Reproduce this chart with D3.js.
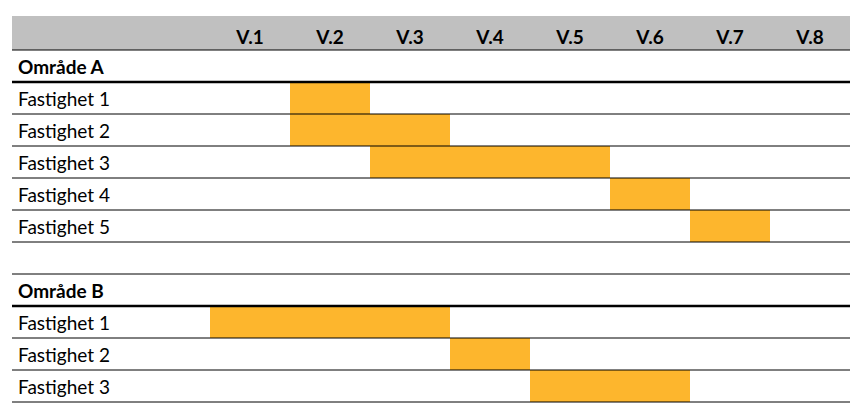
<!DOCTYPE html>
<html><head><meta charset="utf-8">
<script src="https://cdn.jsdelivr.net/npm/d3@7"></script>
<style>body{margin:0;background:#fff}</style>
</head><body>
<script>
var weeks = ['V.1','V.2','V.3','V.4','V.5','V.6','V.7','V.8'];
var rows = ['Område A','Fastighet 1','Fastighet 2','Fastighet 3','Fastighet 4','Fastighet 5','','Område B','Fastighet 1','Fastighet 2','Fastighet 3'];
var groupRows = [0, 7];
var startWeek = [null, 2, 2, 3, null, 6, 7, null, null, 1, 4, 5];
var barStart = [null, 2, 2, 3, 6, 7, null, null, 1, 4, 5];
var barEnd   = [null, 2, 3, 5, 6, 7, null, null, 3, 4, 6];

var w = 866, h = 419;
var svg = d3.select('body').append('svg').attr('width', w).attr('height', h);

var x = d3.scaleBand().domain(weeks).range([210, 850]).padding(0);
var y = d3.scaleBand().domain(d3.range(rows.length)).range([50, 402]).padding(0);

// header band
svg.append('rect').attr('x', 12).attr('y', 16).attr('width', 838).attr('height', 34).attr('fill', '#c0c0c0');
svg.selectAll('text.wk').data(weeks).enter().append('text')
  .attr('class', 'wk')
  .attr('x', function(d) { return x(d) + x.bandwidth() / 2; })
  .attr('y', 44)
  .attr('text-anchor', 'middle')
  .attr('font-family', 'Lato, sans-serif').attr('font-weight', 'bold').attr('font-size', 19)
  .text(function(d) { return d; });

// bars
svg.selectAll('rect.bar').data(d3.range(rows.length).filter(function(i) { return barStart[i] != null; }))
  .enter().append('rect')
  .attr('x', function(i) { return x(weeks[barStart[i] - 1]); })
  .attr('y', function(i) { return y(i); })
  .attr('width', function(i) { return (barEnd[i] - barStart[i] + 1) * x.bandwidth(); })
  .attr('height', y.bandwidth())
  .attr('fill', '#fdb62d');

// lines
svg.append('line').attr('x1', 12).attr('x2', 850).attr('y1', 50).attr('y2', 50).attr('stroke', '#000').attr('stroke-width', 1.2);
d3.range(rows.length).forEach(function(i) {
  var yy = y(i) + y.bandwidth();
  var thick = groupRows.indexOf(i) >= 0;
  svg.append('line').attr('x1', 12).attr('x2', 850).attr('y1', yy).attr('y2', yy)
    .attr('stroke', '#000').attr('stroke-width', thick ? 2.5 : 1);
});

// row labels
svg.selectAll('text.row').data(rows).enter().append('text')
  .attr('x', 18)
  .attr('y', function(d, i) { return y(i) + y.bandwidth() - 8; })
  .attr('font-family', 'Lato, sans-serif').attr('font-size', 19)
  .attr('font-weight', function(d, i) { return groupRows.indexOf(i) >= 0 ? 'bold' : 'normal'; })
  .text(function(d) { return d; });
</script>
</body></html>
